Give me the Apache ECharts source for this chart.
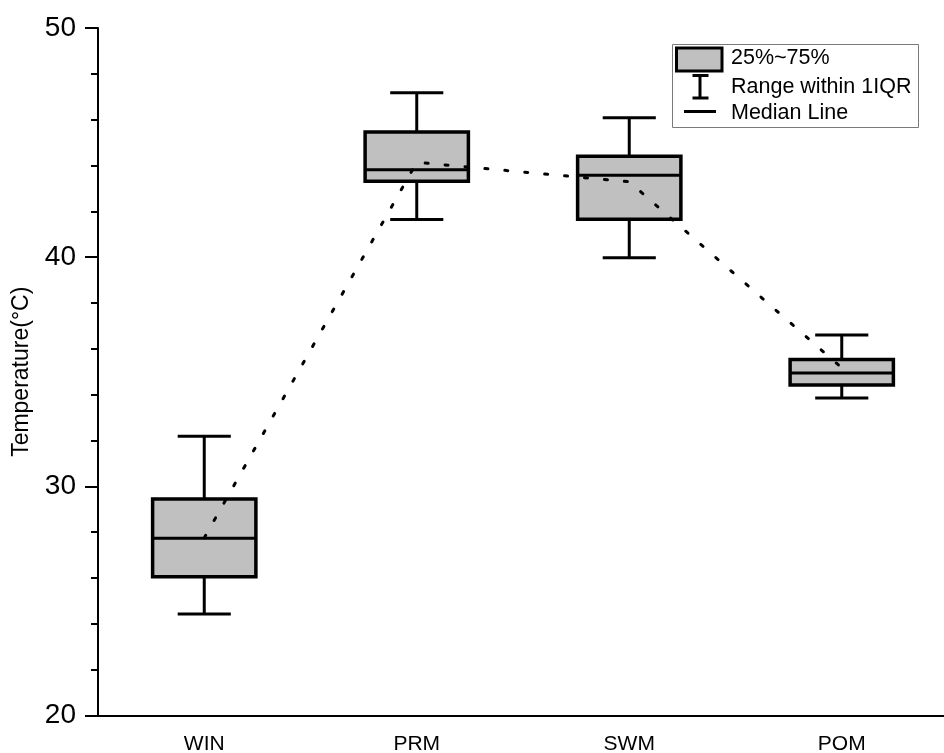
<!DOCTYPE html>
<html>
<head>
<meta charset="utf-8">
<script src="https://cdn.jsdelivr.net/npm/echarts@6/dist/echarts.min.js"></script>
<style>html,body{margin:0;padding:0;background:#fff;}#c{width:944px;height:753px;}</style>
</head>
<body>
<div id="c"></div>
<script>
const categories = ['WIN', 'PRM', 'SWM', 'POM'];
const whiskerLow = [24.43, 41.64, 39.97, 33.86];
const q1 = [26.06, 43.31, 41.66, 34.42];
const median = [27.73, 43.82, 43.58, 34.95];
const q3 = [29.45, 45.46, 44.40, 35.54];
const whiskerHigh = [32.19, 47.18, 46.08, 36.60];
const means = [27.75, 44.14, 43.29, 35.17];
const yTicks = [20, 30, 40, 50];

const boxRows = categories.map((c, i) => [i, whiskerLow[i], q1[i], median[i], q3[i], whiskerHigh[i]]);

const FONT = 'Liberation Sans, Arial, sans-serif';
const chart = echarts.init(document.getElementById('c'), null, {renderer: 'canvas'});

function renderBox(params, api) {
  const i = api.value(0);
  const band = api.size([1, 0])[0];
  const bw = band * 0.486;
  const cw = band * 0.25;
  const pLow = api.coord([i, api.value(1)]);
  const pQ1 = api.coord([i, api.value(2)]);
  const pMed = api.coord([i, api.value(3)]);
  const pQ3 = api.coord([i, api.value(4)]);
  const pHigh = api.coord([i, api.value(5)]);
  const cx = pMed[0];
  const st = {stroke: '#000', lineWidth: 3};
  return {
    type: 'group',
    children: [
      {type: 'line', shape: {x1: cx, y1: pQ3[1], x2: cx, y2: pHigh[1]}, style: st},
      {type: 'line', shape: {x1: cx, y1: pQ1[1], x2: cx, y2: pLow[1]}, style: st},
      {type: 'line', shape: {x1: cx - cw / 2, y1: pHigh[1], x2: cx + cw / 2, y2: pHigh[1]}, style: st},
      {type: 'line', shape: {x1: cx - cw / 2, y1: pLow[1], x2: cx + cw / 2, y2: pLow[1]}, style: st},
      {type: 'rect', shape: {x: cx - bw / 2, y: pQ3[1], width: bw, height: pQ1[1] - pQ3[1]},
        style: {fill: '#c0c0c0', stroke: '#000', lineWidth: 3.5}},
      {type: 'line', shape: {x1: cx - bw / 2, y1: pMed[1], x2: cx + bw / 2, y2: pMed[1]}, style: st}
    ]
  };
}

const legendTexts = ['25%~75%', 'Range within 1IQR', 'Median Line'];

chart.setOption({
  animation: false,
  backgroundColor: '#fff',
  grid: {left: 98, top: 28, width: 850, height: 687.5, containLabel: false, outerBoundsMode: 'none'},
  xAxis: {
    type: 'category',
    data: categories,
    boundaryGap: true,
    axisLine: {lineStyle: {color: '#000', width: 2}},
    axisTick: {alignWithLabel: true, length: 12, lineStyle: {color: '#000', width: 2}},
    axisLabel: {color: '#000', fontSize: 21, fontFamily: FONT, margin: 18},
    splitLine: {show: false}
  },
  yAxis: {
    type: 'value',
    min: yTicks[0],
    max: yTicks[yTicks.length - 1],
    interval: 10,
    name: 'Temperature(°C)',
    nameLocation: 'middle',
    nameRotate: 90,
    nameGap: 65,
    nameTextStyle: {color: '#000', fontSize: 23, fontFamily: FONT},
    axisLine: {show: true, lineStyle: {color: '#000', width: 2}},
    axisTick: {show: true, length: 13, lineStyle: {color: '#000', width: 2}},
    minorTick: {show: true, splitNumber: 5, length: 7, lineStyle: {color: '#000', width: 2}},
    axisLabel: {color: '#000', fontSize: 28, fontFamily: FONT, margin: 22},
    splitLine: {show: false},
    minorSplitLine: {show: false}
  },
  series: [
    {
      type: 'custom',
      name: 'box',
      renderItem: renderBox,
      encode: {x: 0, y: [1, 2, 3, 4, 5]},
      data: boxRows,
      z: 2
    },
    {
      type: 'line',
      name: 'mean',
      data: means,
      symbol: 'none',
      lineStyle: {color: '#000', width: 3, type: [3, 17], cap: 'round'},
      z: 5
    }
  ],
  graphic: [
    {type: 'rect', shape: {x: 672.5, y: 44.5, width: 246, height: 83}, style: {fill: '#fff', stroke: '#7a7a7a', lineWidth: 1}, z: 10},
    {type: 'rect', shape: {x: 676.5, y: 48, width: 45.5, height: 23}, style: {fill: '#c0c0c0', stroke: '#000', lineWidth: 3}, z: 11},
    {type: 'line', shape: {x1: 700, y1: 75.5, x2: 700, y2: 98}, style: {stroke: '#000', lineWidth: 3}, z: 11},
    {type: 'line', shape: {x1: 692.5, y1: 75.5, x2: 708.5, y2: 75.5}, style: {stroke: '#000', lineWidth: 3}, z: 11},
    {type: 'line', shape: {x1: 692.5, y1: 98, x2: 708.5, y2: 98}, style: {stroke: '#000', lineWidth: 3}, z: 11},
    {type: 'line', shape: {x1: 684, y1: 111.5, x2: 716, y2: 111.5}, style: {stroke: '#000', lineWidth: 3}, z: 11},
    {type: 'text', x: 731, y: 58, style: {text: legendTexts[0], fill: '#000', font: '21.5px ' + FONT, textVerticalAlign: 'middle'}, z: 11},
    {type: 'text', x: 731, y: 87, style: {text: legendTexts[1], fill: '#000', font: '21.5px ' + FONT, textVerticalAlign: 'middle'}, z: 11},
    {type: 'text', x: 731, y: 113, style: {text: legendTexts[2], fill: '#000', font: '21.5px ' + FONT, textVerticalAlign: 'middle'}, z: 11}
  ]
});
</script>
</body>
</html>
